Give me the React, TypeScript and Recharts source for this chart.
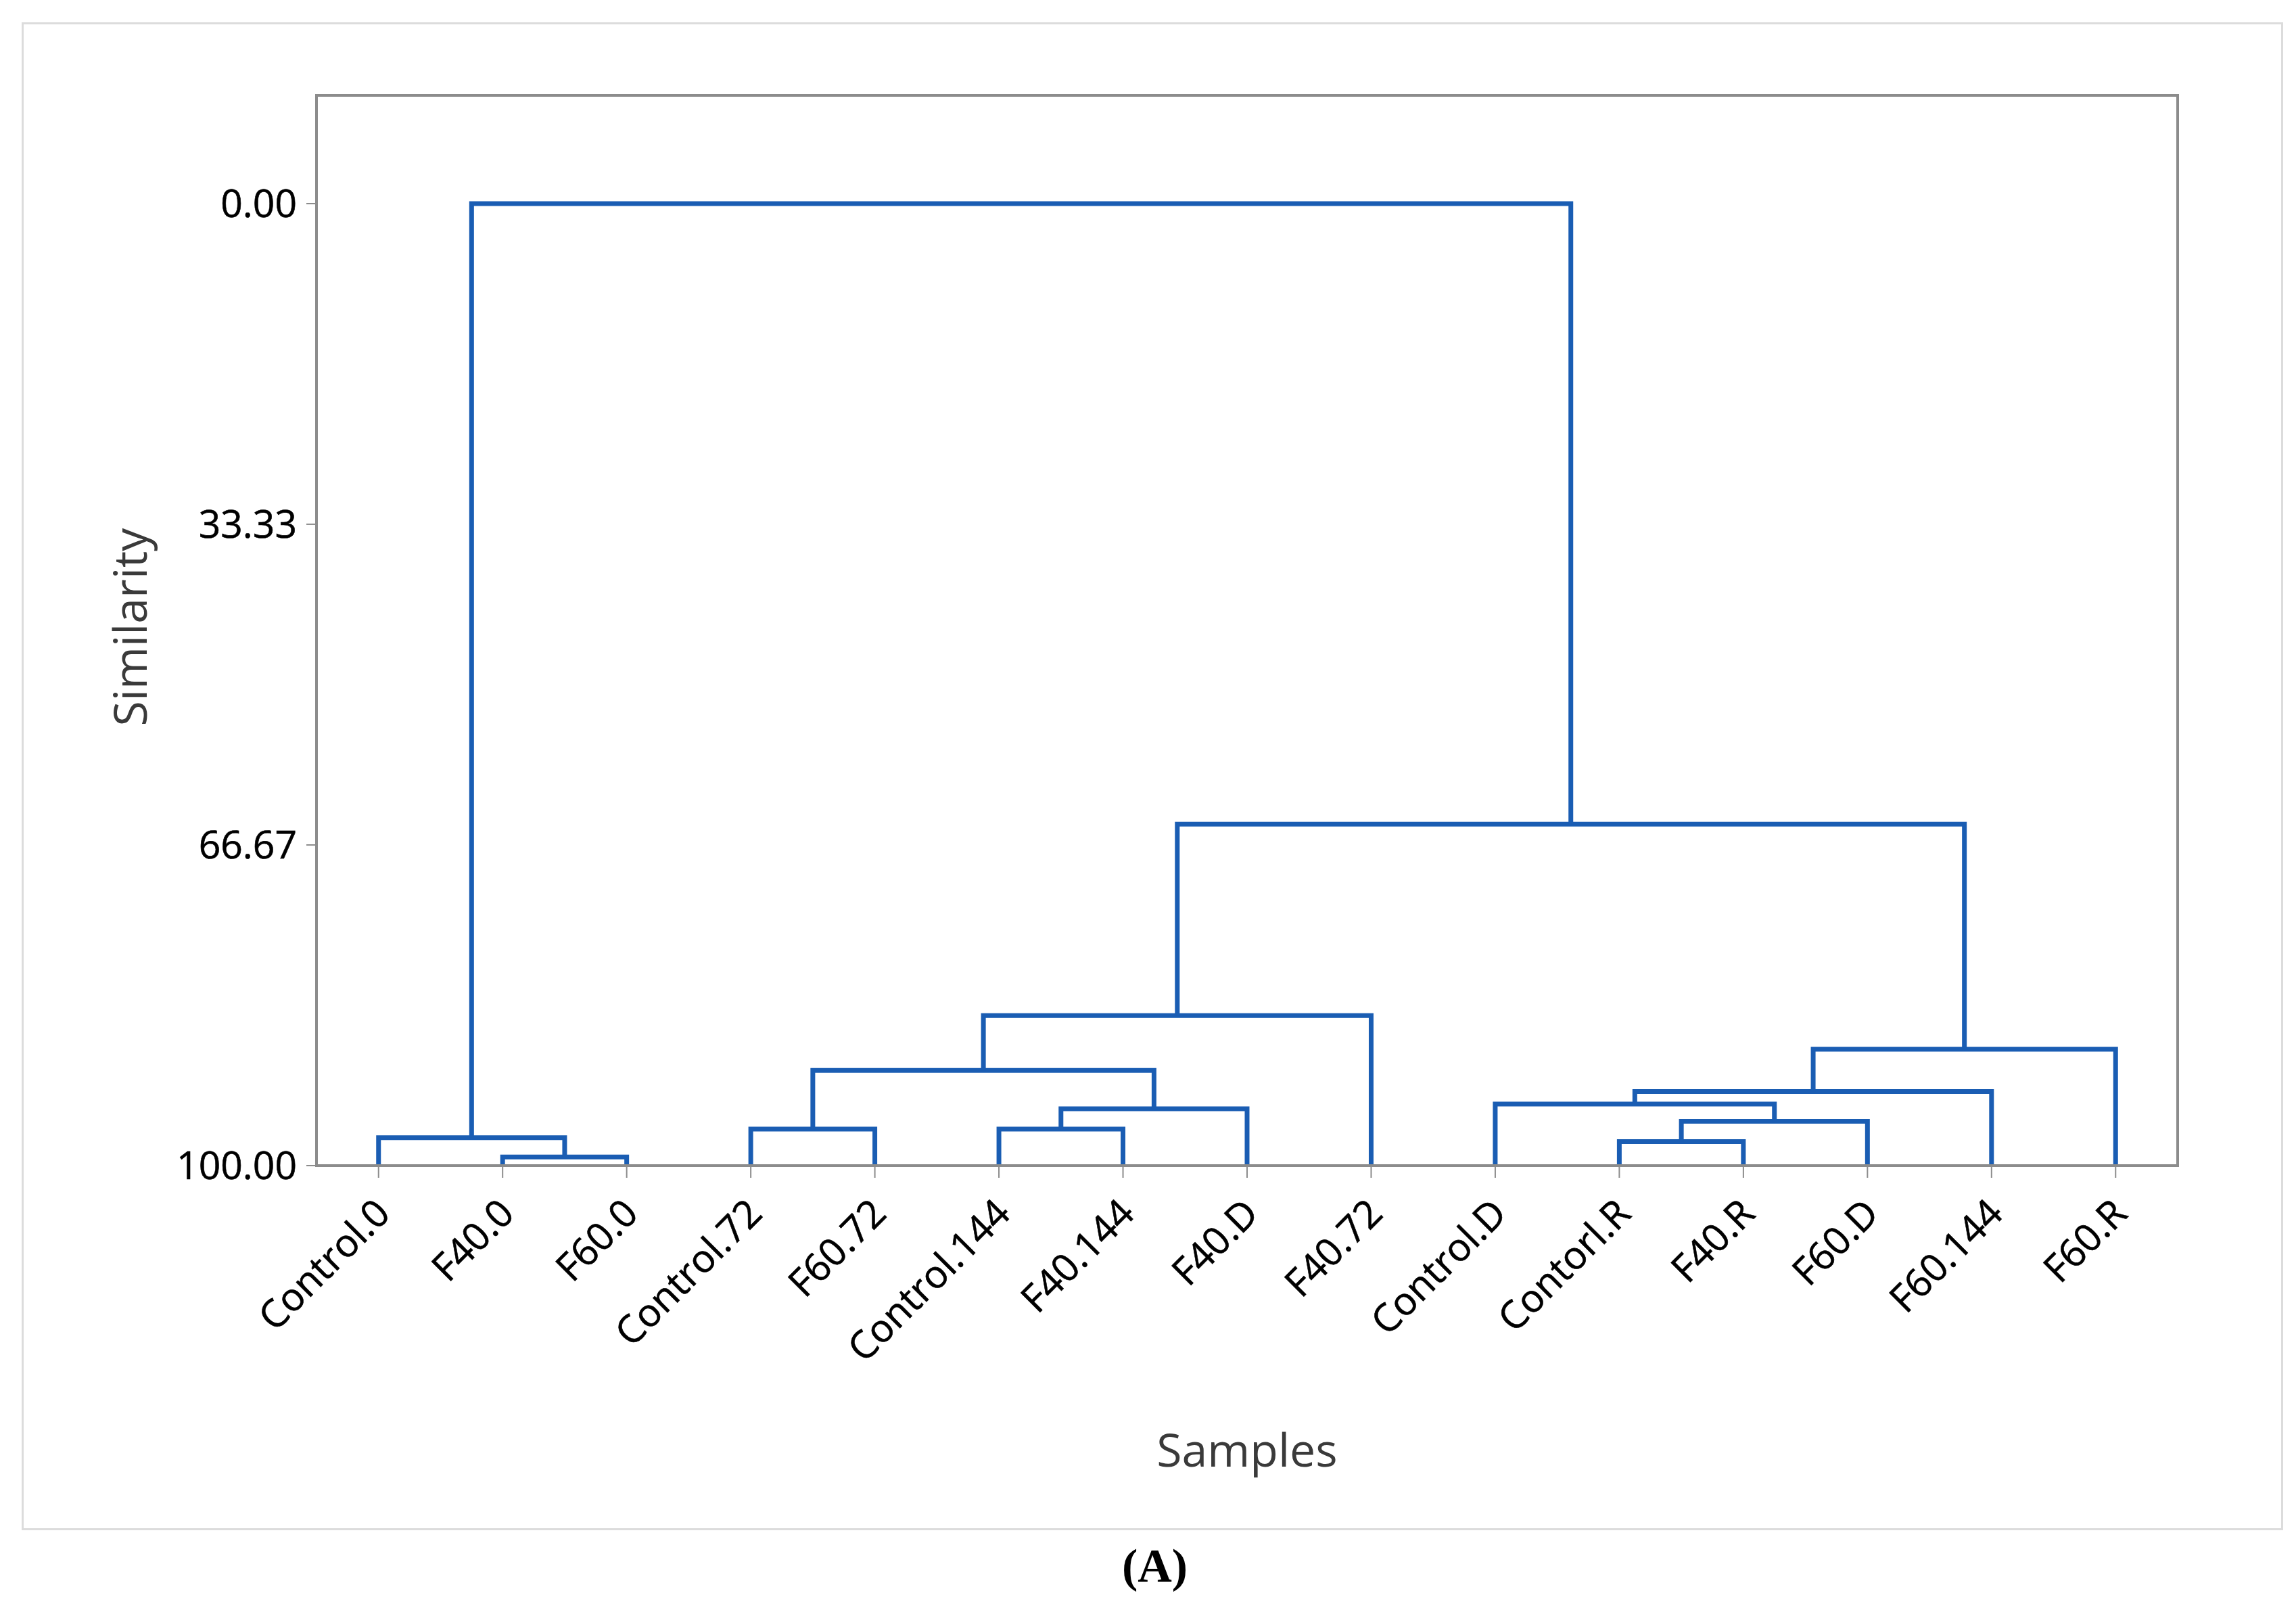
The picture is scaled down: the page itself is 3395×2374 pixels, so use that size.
import React from "react";
import { LineChart, Line, XAxis, YAxis, Label, ReferenceArea } from "recharts";

// leaf order as drawn in the dendrogram
const leaves = [
  "Control.0", "F40.0", "F60.0", "Control.72", "F60.72", "Control.144", "F40.144",
  "F40.D", "F40.72", "Control.D", "Contorl.R", "F40.R", "F60.D", "F60.144", "F60.R",
];

// merge steps: node ids < 15 are leaves, merge k creates node 15 + k
const mergeLeft = [1, 0, 3, 5, 18, 17, 20, 10, 22, 9, 24, 25, 21, 16];
const mergeRight = [2, 15, 4, 6, 7, 19, 8, 11, 12, 23, 13, 14, 26, 27];
const mergeSimilarity = [99.1, 97.1, 96.2, 96.2, 94.1, 90.1, 84.4, 97.5, 95.4, 93.6, 92.3, 87.9, 64.5, 0.0];

const yTicks = [0, 33.33, 66.67, 100];
const yDomain = [-11.25, 100];
const xDomain = [-0.5, 14.5];

const FONT = "'Open Sans', 'Noto Sans', sans-serif";
const BLUE = "#1a5db3";
const GRAY = "#8c8c8c";

function buildLinks() {
  const nodeX: number[] = leaves.map((_, i) => i);
  const nodeY: number[] = leaves.map(() => 100);
  return mergeSimilarity.map((h, k) => {
    const l = mergeLeft[k];
    const r = mergeRight[k];
    nodeX.push((nodeX[l] + nodeX[r]) / 2);
    nodeY.push(h);
    return [
      { x: nodeX[l], y: nodeY[l] },
      { x: nodeX[l], y: h },
      { x: nodeX[r], y: h },
      { x: nodeX[r], y: nodeY[r] },
    ];
  });
}

const links = buildLinks();

const LeafTick = (props: any) => {
  const { x, y, payload } = props;
  return (
    <g transform={`translate(${x + 20},${y + 54})`}>
      <text transform="rotate(-45)" textAnchor="end" fontSize={57} fontFamily={FONT} fill="#000" stroke="#000" strokeWidth={0.6}>
        {leaves[payload.value]}
      </text>
    </g>
  );
};

export default function App() {
  return (
    <div style={{ position: "relative", width: 3395, height: 2374, background: "#fff" }}>
      <style>{"body{margin:0}"}</style>
      <div
        style={{
          position: "absolute", left: 32, top: 33, width: 3338, height: 2223,
          border: "3px solid #dcdcdc",
        }}
      />
      <div style={{ position: "absolute", left: 0, top: 0 }}>
        <LineChart width={3395} height={2374} margin={{ top: 141, right: 175, bottom: 0, left: 0 }}>
          <XAxis
            dataKey="x"
            type="number"
            domain={xDomain}
            ticks={leaves.map((_, i) => i)}
            interval={0}
            allowDataOverflow
            height={651}
            tickSize={18}
            tickLine={{ stroke: GRAY, strokeWidth: 2 }}
            axisLine={{ stroke: GRAY, strokeWidth: 4 }}
            tick={<LeafTick />}
          >
            <Label
              content={(p: any) => (
                <text
                  x={p.viewBox.x + p.viewBox.width / 2}
                  y={p.viewBox.y + 445}
                  textAnchor="middle"
                  fontSize={68}
                  fontFamily={FONT}
                  fill="#3a3a3a"
                >
                  Samples
                </text>
              )}
            />
          </XAxis>
          <YAxis
            type="number"
            reversed
            domain={yDomain}
            ticks={yTicks}
            interval={0}
            allowDataOverflow
            width={468}
            tickSize={15}
            tickMargin={14}
            tickFormatter={(v: number) => v.toFixed(2)}
            tick={{ fontSize: 57, fontFamily: FONT, fill: "#000", stroke: "#000", strokeWidth: 0.6 }}
            tickLine={{ stroke: GRAY, strokeWidth: 2 }}
            axisLine={{ stroke: GRAY, strokeWidth: 4 }}
          >
            <Label
              content={(p: any) => {
                const cx = p.viewBox.x + 217;
                const cy = p.viewBox.y + p.viewBox.height / 2 - 5;
                return (
                  <text
                    x={cx}
                    y={cy}
                    transform={`rotate(-90 ${cx} ${cy})`}
                    textAnchor="middle"
                    fontSize={68}
                    fontFamily={FONT}
                    fill="#3a3a3a"
                  >
                    Similarity
                  </text>
                );
              }}
            />
          </YAxis>
          <ReferenceArea
            x1={xDomain[0]}
            x2={xDomain[1]}
            y1={yDomain[0]}
            y2={yDomain[1]}
            fill="none"
            fillOpacity={0}
            stroke={GRAY}
            strokeWidth={4}
            ifOverflow="visible"
          />
          {links.map((d, i) => (
            <Line
              key={i}
              data={d}
              dataKey="y"
              type="linear"
              stroke={BLUE}
              strokeWidth={7}
              dot={false}
              activeDot={false}
              isAnimationActive={false}
            />
          ))}
        </LineChart>
      </div>
      <div
        style={{
          position: "absolute", left: 0, width: 3395, top: 2275, textAlign: "center",
          fontFamily: "'Liberation Serif', 'Times New Roman', serif", fontWeight: "bold", fontSize: 70,
          paddingLeft: 10,
        }}
      >
        (A)
      </div>
    </div>
  );
}
